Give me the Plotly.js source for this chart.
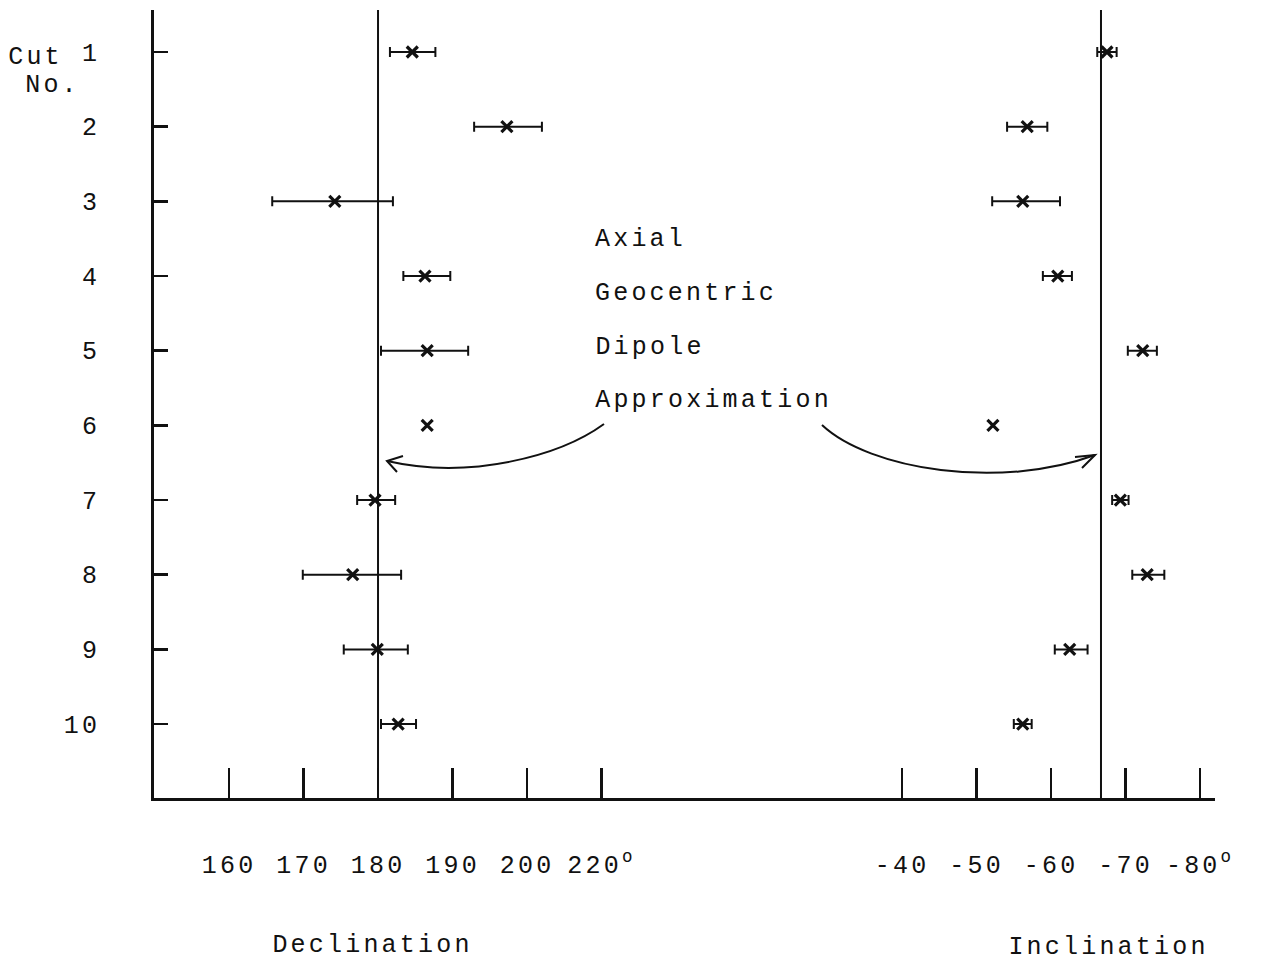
<!DOCTYPE html>
<html>
<head>
<meta charset="utf-8">
<script src="https://cdn.plot.ly/plotly-3.0.1.min.js"></script>
<style>
html,body{margin:0;padding:0;background:#fff;}
#chart{width:1271px;height:962px;}
.main-svg text{letter-spacing:3.2px;}
</style>
</head>
<body>
<div id="chart"></div>
<script>
// ---- data ----
const CUTS = [1,2,3,4,5,6,7,8,9,10];
const CUT_LABELS = ["1","2","3","4","5","6","7","8","9","10"];
const DEC     = [184.6,197.3,174.2,186.3,186.6,186.6,179.6,176.6,179.9,182.7];
const DEC_LO  = [181.6,192.9,165.8,183.4,180.4,null,177.2,169.9,175.4,180.4];
const DEC_HI  = [187.7,202.0,182.0,189.7,192.1,null,182.3,183.1,184.0,185.1];
const INC     = [-67.5,-56.8,-56.2,-60.9,-72.3,-52.2,-69.3,-72.9,-62.5,-56.2];
const INC_LO  = [-66.2,-54.1,-52.1,-58.9,-70.3,null,-68.2,-70.9,-60.5,-55.0];
const INC_HI  = [-68.8,-59.5,-61.2,-62.8,-74.2,null,-70.4,-75.2,-64.9,-57.4];
const DEC_TICKS = [160,170,180,190,200,210];
const DEC_TICK_TEXT = ["160","170","180","190","200","220<sup>o</sup>"];
const INC_TICKS = [-40,-50,-60,-70,-80];
const INC_TICK_TEXT = ["-40","-50","-60","-70","-80<sup>o</sup>"];
const DIPOLE_DEC = 180;
const DIPOLE_INC = -66.7;
const NOTE_LINES = ["Axial","Geocentric","Dipole","Approximation"];

// ---- layout helpers ----
const W = 1271, H = 962;
const M = {l:154, r:56, t:10, b:164};
const PW = W - M.l - M.r, PH = H - M.t - M.b;
const px = x => (x - M.l) / PW;
const py = y => 1 - (y - M.t) / PH;
const SPLIT = px(750);
const FONT = {family:"Liberation Mono, Courier New, monospace", size:25, color:"#111"};
const CW = 0.6*FONT.size + 3.2;   // rendered advance per character
const leftX = (left, txt) => px(left + (txt.length*CW - 3.2)/2);

function path(pts){
  return pts.map(p => p[0] + p.slice(1).reduce((s,v,i)=> s + (i? (i%2? ",":" "):"") + (i%2? py(v).toFixed(5) : px(v).toFixed(5)), "")).join(" ");
}

const BLACK = "#111";
const hasBar = i => DEC_LO[i] !== null;
const idx = CUTS.map((_,i)=>i).filter(hasBar);
const MARK = {symbol:"x-thin", size:11, line:{width:3.2, color:BLACK}, color:BLACK};

const traces = [
  { x: idx.map(i=>DEC[i]), y: idx.map(i=>CUTS[i]), xaxis:"x", yaxis:"y", type:"scatter", mode:"markers",
    marker:{size:1, opacity:0},
    error_x:{type:"data", symmetric:false, array: idx.map(i=>DEC_HI[i]-DEC[i]), arrayminus: idx.map(i=>DEC[i]-DEC_LO[i]),
      color:BLACK, thickness:2, width:5}, hoverinfo:"skip", showlegend:false },
  { x: DEC, y: CUTS, xaxis:"x", yaxis:"y", type:"scatter", mode:"markers", marker:MARK, showlegend:false },
  { x: idx.map(i=>INC[i]), y: idx.map(i=>CUTS[i]), xaxis:"x2", yaxis:"y", type:"scatter", mode:"markers",
    marker:{size:1, opacity:0},
    error_x:{type:"data", symmetric:false, array: idx.map(i=>INC_LO[i]-INC[i]), arrayminus: idx.map(i=>INC[i]-INC_HI[i]),
      color:BLACK, thickness:2, width:5}, hoverinfo:"skip", showlegend:false },
  { x: INC, y: CUTS, xaxis:"x2", yaxis:"y", type:"scatter", mode:"markers", marker:MARK, showlegend:false }
];

const axCommon = {showgrid:false, zeroline:false, showline:true, linecolor:BLACK, linewidth:2.8,
  ticks:"inside", ticklen:30, tickwidth:2.5, tickcolor:BLACK, tickfont:FONT, ticklabelstandoff:42, fixedrange:true};

const annotations = [];
NOTE_LINES.forEach((t,i)=>{
  annotations.push({text:t, xref:"paper", yref:"paper", x:leftX(597,t), y:py(240 + i*53.5), xanchor:"center", yanchor:"middle", showarrow:false, font:FONT});
});
annotations.push({text:"Cut", xref:"paper", yref:"paper", x:leftX(10,"Cut"), y:py(57), xanchor:"center", yanchor:"middle", showarrow:false, font:FONT});
annotations.push({text:"No.", xref:"paper", yref:"paper", x:leftX(27,"No."), y:py(85), xanchor:"center", yanchor:"middle", showarrow:false, font:FONT});
annotations.push({text:"Declination", xref:"paper", yref:"paper", x:px(372), y:py(945), xanchor:"center", yanchor:"middle", showarrow:false, font:FONT});
annotations.push({text:"Inclination", xref:"paper", yref:"paper", x:px(1108), y:py(947), xanchor:"center", yanchor:"middle", showarrow:false, font:FONT});

const shapes = [
  {type:"line", xref:"x", yref:"paper", x0:DIPOLE_DEC, x1:DIPOLE_DEC, y0:0, y1:1, line:{color:BLACK, width:2}},
  {type:"line", xref:"x2", yref:"paper", x0:DIPOLE_INC, x1:DIPOLE_INC, y0:0, y1:1, line:{color:BLACK, width:2}},
  {type:"path", xref:"paper", yref:"paper", line:{color:BLACK, width:2},
   path: path([["M",604,424],["C",560,456,470,480,387,461]])},
  {type:"path", xref:"paper", yref:"paper", line:{color:BLACK, width:2},
   path: path([["M",403,456],["L",387,461],["L",397,472]])},
  {type:"path", xref:"paper", yref:"paper", line:{color:BLACK, width:2},
   path: path([["M",822,425],["C",870,470,1000,490,1095,455]])},
  {type:"path", xref:"paper", yref:"paper", line:{color:BLACK, width:2},
   path: path([["M",1075,457],["L",1095,455],["L",1082,468]])}
];

const layout = {
  width:W, height:H, margin:M, paper_bgcolor:"#fff", plot_bgcolor:"#fff", showlegend:false,
  font:FONT,
  xaxis: Object.assign({}, axCommon, {domain:[0,SPLIT], range:[149.93,229.93], tickmode:"array", tickvals:DEC_TICKS, ticktext:DEC_TICK_TEXT}),
  xaxis2: Object.assign({}, axCommon, {domain:[SPLIT,1], anchor:"y", range:[-19.6,-82.0], tickmode:"array", tickvals:INC_TICKS, ticktext:INC_TICK_TEXT}),
  yaxis: Object.assign({}, axCommon, {range:[10.99,0.4375], ticklen:14, tickmode:"array", tickvals:CUTS, ticktext:CUT_LABELS, ticklabelstandoff:46}),
  annotations, shapes
};

Plotly.newPlot("chart", traces, layout, {staticPlot:true, displayModeBar:false});
</script>
</body>
</html>
